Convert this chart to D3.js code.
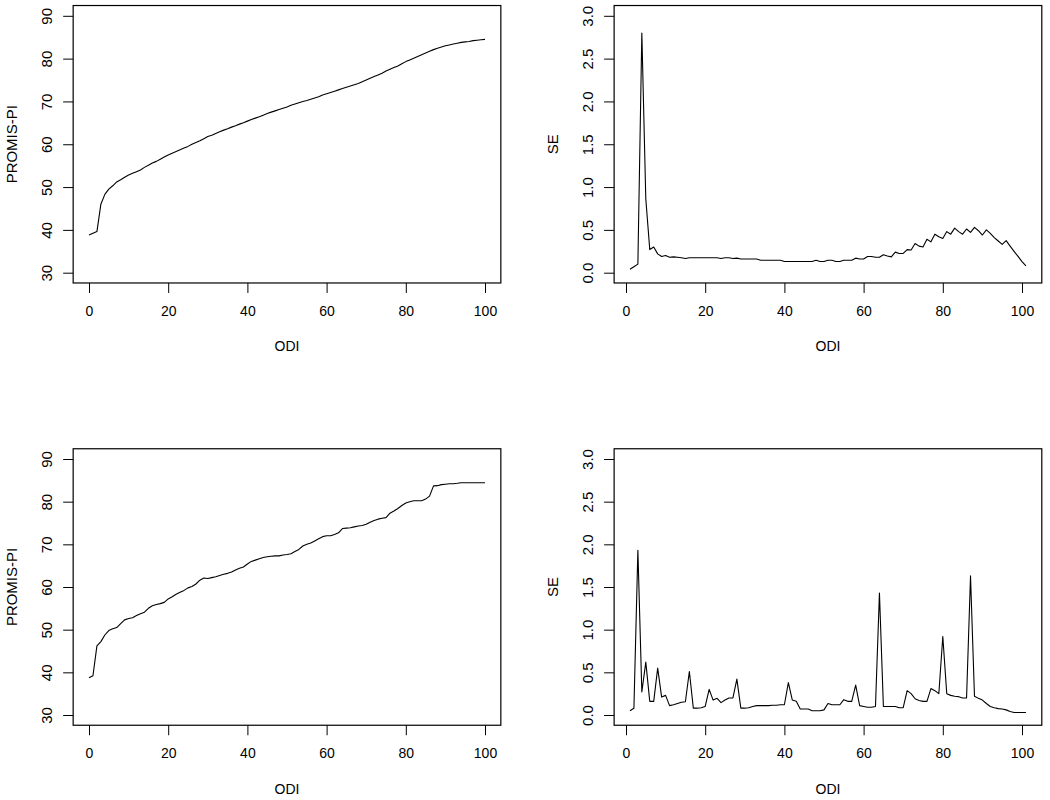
<!DOCTYPE html>
<html>
<head>
<meta charset="utf-8">
<script src="https://cdn.jsdelivr.net/npm/d3@7"></script>
<style>
  html, body { margin: 0; padding: 0; background: #fff; }
  svg { display: block; }
  text { font-family: "Liberation Sans", Arial, sans-serif; fill: #000; }
</style>
</head>
<body>
<svg id="chart" width="1050" height="800"></svg>
<script>
// ---------------- data ----------------
const odiLeft  = d3.range(0, 101);   // ODI scores 0..100 (left panels)
const odiRight = d3.range(1, 102);   // index 1..101 (right panels)

const promisTop = [
  38.8, 39.2, 39.6, 46.0, 48.3, 49.5, 50.3, 51.2, 51.7, 52.3,
  52.8, 53.2, 53.6, 54.0, 54.6, 55.1, 55.6, 56.0, 56.5, 57.0,
  57.5, 57.9, 58.3, 58.7, 59.1, 59.5, 60.0, 60.4, 60.8, 61.3,
  61.8, 62.1, 62.5, 62.9, 63.3, 63.6, 64.0, 64.3, 64.7, 65.0,
  65.4, 65.8, 66.1, 66.4, 66.8, 67.2, 67.5, 67.8, 68.1, 68.4,
  68.7, 69.1, 69.4, 69.7, 70.0, 70.2, 70.5, 70.8, 71.1, 71.5,
  71.8, 72.1, 72.4, 72.7, 73.0, 73.3, 73.6, 73.9, 74.2, 74.6,
  75.0, 75.4, 75.8, 76.2, 76.6, 77.1, 77.5, 77.9, 78.3, 78.8,
  79.3, 79.7, 80.1, 80.5, 80.9, 81.3, 81.7, 82.1, 82.4, 82.7,
  83.0, 83.2, 83.4, 83.6, 83.8, 83.9, 84.0, 84.2, 84.3, 84.4,
  84.5
];

const seTop = [
  0.04, 0.07, 0.10, 2.80, 0.86, 0.27, 0.30, 0.22, 0.19, 0.20,
  0.18, 0.185, 0.18, 0.175, 0.165, 0.175, 0.175, 0.175, 0.175, 0.175,
  0.175, 0.175, 0.175, 0.165, 0.175, 0.175, 0.165, 0.17, 0.16, 0.16,
  0.16, 0.16, 0.16, 0.145, 0.145, 0.145, 0.145, 0.145, 0.145, 0.13,
  0.13, 0.13, 0.13, 0.13, 0.13, 0.13, 0.13, 0.145, 0.13, 0.13,
  0.145, 0.145, 0.13, 0.13, 0.145, 0.145, 0.145, 0.17, 0.16, 0.16,
  0.19, 0.19, 0.18, 0.18, 0.21, 0.195, 0.185, 0.24, 0.225, 0.225,
  0.27, 0.265, 0.34, 0.31, 0.30, 0.39, 0.36, 0.45, 0.42, 0.40,
  0.48, 0.45, 0.52, 0.48, 0.45, 0.51, 0.47, 0.53, 0.49, 0.44,
  0.50, 0.46, 0.41, 0.37, 0.33, 0.375, 0.31, 0.25, 0.19, 0.13,
  0.08
];

const promisBottom = [
  38.75, 39.2, 46.2, 47.2, 48.75, 49.8, 50.2, 50.5, 51.4, 52.3,
  52.6, 52.8, 53.3, 53.75, 54.1, 55.0, 55.6, 55.9, 56.1, 56.4,
  57.2, 57.7, 58.3, 58.75, 59.2, 59.8, 60.1, 60.7, 61.6, 62.1,
  62.0, 62.2, 62.4, 62.7, 63.0, 63.2, 63.5, 64.0, 64.4, 64.7,
  65.4, 66.0, 66.3, 66.6, 66.9, 67.1, 67.2, 67.3, 67.3, 67.5,
  67.6, 67.8, 68.3, 68.8, 69.6, 70.0, 70.3, 70.8, 71.3, 71.8,
  72.0, 72.0, 72.3, 72.7, 73.7, 73.8, 73.9, 74.1, 74.3, 74.4,
  74.7, 75.2, 75.6, 75.9, 76.1, 76.25, 77.3, 77.8, 78.4, 79.1,
  79.7, 80.0, 80.2, 80.2, 80.2, 80.6, 81.3, 83.7, 83.75, 84.0,
  84.1, 84.2, 84.2, 84.3, 84.45, 84.45, 84.45, 84.45, 84.45, 84.45,
  84.45
];

const seBottom = [
  0.05, 0.08, 1.93, 0.27, 0.62, 0.16, 0.16, 0.55, 0.21, 0.23,
  0.11, 0.12, 0.135, 0.15, 0.155, 0.51, 0.08, 0.08, 0.085, 0.10,
  0.30, 0.175, 0.195, 0.145, 0.175, 0.20, 0.20, 0.42, 0.08, 0.08,
  0.085, 0.10, 0.11, 0.11, 0.11, 0.11, 0.115, 0.115, 0.12, 0.12,
  0.38, 0.175, 0.16, 0.07, 0.07, 0.07, 0.05, 0.05, 0.05, 0.06,
  0.135, 0.12, 0.12, 0.12, 0.18, 0.16, 0.16, 0.35, 0.11, 0.10,
  0.09, 0.09, 0.10, 1.43, 0.10, 0.10, 0.10, 0.10, 0.085, 0.085,
  0.285, 0.25, 0.19, 0.17, 0.16, 0.16, 0.31, 0.285, 0.25, 0.92,
  0.25, 0.23, 0.22, 0.215, 0.20, 0.20, 1.63, 0.22, 0.195, 0.175,
  0.135, 0.10, 0.085, 0.075, 0.07, 0.06, 0.04, 0.03, 0.03, 0.03,
  0.03
];

const xTicks = [0, 20, 40, 60, 80, 100];
const promisTicks = [30, 40, 50, 60, 70, 80, 90];
const seTicks = [0, 0.5, 1.0, 1.5, 2.0, 2.5, 3.0];
const seTickLabels = ["0.0", "0.5", "1.0", "1.5", "2.0", "2.5", "3.0"];

// ---------------- layout ----------------
const svg = d3.select("#chart");
const FONT = 14, SY = 1.07;

const panels = [
  { left: 73,  top: 15.8, bottom: 272.7, xs: odiLeft,  ys: promisTop,    xDom: [0, 100], xr: [89, 485],
    yDom: [30, 90], yTicks: promisTicks, yLabels: promisTicks.map(String), ylab: "PROMIS-PI" },
  { left: 614, top: 15.8, bottom: 272.7, xs: odiRight, ys: seTop,        xDom: [0, 100], xr: [626, 1022],
    yDom: [0, 3],   yTicks: seTicks,     yLabels: seTickLabels,            ylab: "SE" },
  { left: 73,  top: 459,  bottom: 715,   xs: odiLeft,  ys: promisBottom, xDom: [0, 100], xr: [89, 485],
    yDom: [30, 90], yTicks: promisTicks, yLabels: promisTicks.map(String), ylab: "PROMIS-PI" },
  { left: 614, top: 459,  bottom: 715,   xs: odiRight, ys: seBottom,     xDom: [0, 100], xr: [626, 1022],
    yDom: [0, 3],   yTicks: seTicks,     yLabels: seTickLabels,            ylab: "SE" }
];

panels.forEach(p => {
  const x = d3.scaleLinear().domain(p.xDom).range(p.xr);
  const y = d3.scaleLinear().domain(p.yDom).range([p.bottom, p.top]);

  // plotting region: data range extended by 4% (R style)
  const xExt = d3.extent(p.xs), xPad = (xExt[1] - xExt[0]) * 0.04;
  const yPad = (p.yDom[1] - p.yDom[0]) * 0.04;
  const bx0 = x(xExt[0] - xPad), bx1 = x(xExt[1] + xPad);
  const by0 = y(p.yDom[1] + yPad), by1 = y(p.yDom[0] - yPad);

  const g = svg.append("g");

  // x axis
  const gx = g.append("g").attr("transform", `translate(0,${by1})`)
    .call(d3.axisBottom(x).tickValues(xTicks).tickSize(10).tickSizeOuter(0).tickFormat(d3.format("d")));
  gx.select(".domain").remove();
  gx.selectAll(".tick line").attr("stroke", "#000").attr("stroke-width", 1);
  gx.selectAll(".tick text")
    .attr("y", null).attr("dy", "0.36em")
    .attr("transform", `translate(0,27.5) scale(1,${SY})`)
    .style("font-size", FONT + "px").attr("fill", "#000");

  // y axis
  const gy = g.append("g").attr("transform", `translate(${bx0},0)`)
    .call(d3.axisLeft(y).tickValues(p.yTicks).tickSize(10).tickSizeOuter(0)
      .tickFormat((d, i) => p.yLabels[i]));
  gy.select(".domain").remove();
  gy.selectAll(".tick line").attr("stroke", "#000").attr("stroke-width", 1);
  gy.selectAll(".tick text")
    .attr("x", null).attr("dy", "0.36em").attr("text-anchor", "middle")
    .attr("transform", `translate(-26,0) scale(1,${SY}) rotate(-90)`)
    .style("font-size", FONT + "px").attr("fill", "#000");

  // box
  g.append("rect")
    .attr("x", bx0).attr("y", by0)
    .attr("width", bx1 - bx0).attr("height", by1 - by0)
    .attr("fill", "none").attr("stroke", "#000").attr("stroke-width", 1.2);

  // line
  const line = d3.line().x((d, i) => x(p.xs[i])).y(d => y(d));
  g.append("path").datum(p.ys)
    .attr("d", line)
    .attr("fill", "none").attr("stroke", "#000").attr("stroke-width", 1.1)
    .attr("stroke-linejoin", "round");

  // axis titles
  g.append("text")
    .attr("transform", `translate(${(bx0 + bx1) / 2},${by1 + 63}) scale(1,${SY})`)
    .attr("dy", "0.36em").attr("text-anchor", "middle")
    .style("font-size", FONT + "px").text("ODI");
  g.append("text")
    .attr("transform", `translate(${bx0 - 61.5},${(by0 + by1) / 2}) scale(1,${SY}) rotate(-90)`)
    .attr("dy", "0.36em").attr("text-anchor", "middle")
    .style("font-size", FONT + "px").text(p.ylab);
});
</script>
</body>
</html>
